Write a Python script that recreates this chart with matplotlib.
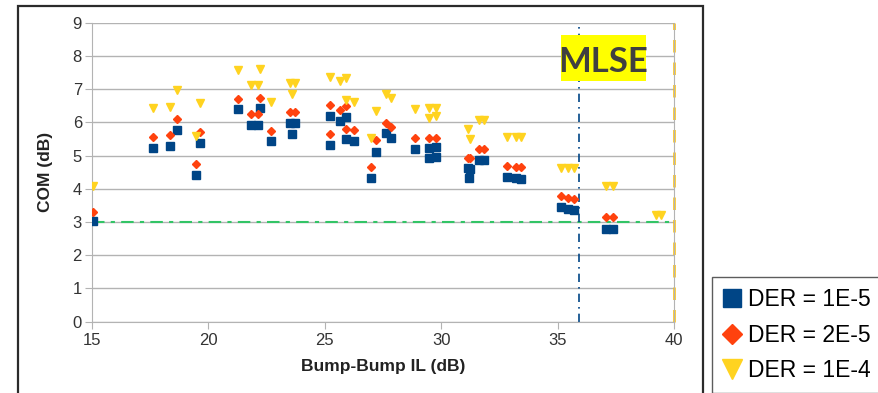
import matplotlib
matplotlib.use("Agg")
import matplotlib.pyplot as plt
from matplotlib.patches import Rectangle
from matplotlib.lines import Line2D

plt.rcParams['font.family'] = ['Liberation Sans', 'DejaVu Sans']

# ---- data ----
x_1e5 = [15.05, 17.65, 18.36, 18.67, 19.46, 19.67, 21.28, 21.86, 22.14, 22.21, 22.69,
         23.50, 23.74, 23.60, 25.24, 25.24, 25.64, 25.93, 25.93, 26.26, 27.00, 27.22,
         27.62, 27.87, 28.86, 29.47, 29.79, 29.47, 29.79, 31.14, 31.26, 31.20, 31.64,
         31.86, 32.81, 33.21, 33.43, 35.14, 35.43, 35.71, 37.07, 37.36]
y_1e5 = [3.02, 5.24, 5.29, 5.77, 4.42, 5.37, 6.40, 5.92, 5.92, 6.43, 5.43,
         5.99, 5.98, 5.65, 6.20, 5.32, 6.05, 6.17, 5.49, 5.45, 4.33, 5.12,
         5.67, 5.53, 5.19, 4.92, 4.97, 5.22, 5.25, 4.62, 4.59, 4.32, 4.87,
         4.87, 4.37, 4.32, 4.30, 3.45, 3.39, 3.37, 2.78, 2.78]

x_2e5 = [15.05, 17.65, 18.36, 18.67, 19.46, 19.67, 21.28, 21.86, 22.14, 22.21, 22.69,
         23.50, 23.74, 25.24, 25.24, 25.64, 25.93, 25.93, 26.26, 27.00, 27.22,
         27.62, 27.87, 28.86, 29.47, 29.79, 31.14, 31.26, 31.64,
         31.86, 32.81, 33.21, 33.43, 35.14, 35.43, 35.71, 37.07, 37.36]
y_2e5 = [3.30, 5.55, 5.61, 6.10, 4.74, 5.71, 6.71, 6.26, 6.24, 6.74, 5.74,
         6.32, 6.30, 6.52, 5.65, 6.38, 6.48, 5.81, 5.77, 4.65, 5.47,
         5.98, 5.86, 5.52, 5.54, 5.52, 4.92, 4.92, 5.20,
         5.20, 4.70, 4.65, 4.67, 3.79, 3.72, 3.70, 3.14, 3.14]

x_1e4 = [15.05, 17.65, 18.36, 18.67, 19.46, 19.67, 21.28, 21.86, 22.14, 22.21, 22.69,
         23.50, 23.74, 23.60, 25.24, 25.64, 25.93, 25.93, 26.26, 27.00, 27.22,
         27.62, 27.87, 28.86, 29.47, 29.79, 29.47, 29.79, 31.14, 31.26, 31.64,
         31.86, 32.81, 33.21, 33.43, 35.14, 35.43, 35.71, 37.07, 37.36, 39.21, 39.43]
y_1e4 = [4.07, 6.42, 6.46, 6.96, 5.59, 6.58, 7.58, 7.12, 7.12, 7.60, 6.62,
         7.20, 7.18, 6.86, 7.38, 7.24, 7.34, 6.68, 6.62, 5.52, 6.33,
         6.85, 6.73, 6.40, 6.42, 6.44, 6.13, 6.18, 5.79, 5.49, 6.07,
         6.07, 5.57, 5.55, 5.57, 4.62, 4.62, 4.62, 4.07, 4.07, 3.21, 3.21]

labels = ['DER = 1E-5', 'DER = 2E-5', 'DER = 1E-4']
colors = ['#004586', '#ff420e', '#ffd320']
x_ticks = [15, 20, 25, 30, 35, 40]
y_ticks = [0, 1, 2, 3, 4, 5, 6, 7, 8, 9]
mlse_x = 35.9
limit_x = 40
com_thr = 3.0

W, H = 879, 393
fig = plt.figure(figsize=(W / 100, H / 100), dpi=100)

# outer frame
fig.patches.append(Rectangle((18 / W, -0.05), 685 / W, 1.05 - 6 / H,
                             transform=fig.transFigure, fill=False,
                             edgecolor='#2b2b2b', lw=1.6))

ax = fig.add_axes([91.7 / W, 1 - 321.7 / H, (674 - 91.7) / W, (321.7 - 22.7) / H])
ax.set_xlim(15, 40)
ax.set_ylim(0, 9)
ax.set_xticks(x_ticks)
ax.set_yticks(y_ticks)
ax.yaxis.grid(True, color='#b3b3b3', lw=1)
ax.set_axisbelow(True)
for s in ['left', 'bottom', 'right']:
    ax.spines[s].set_color('#b3b3b3')
ax.spines['top'].set_visible(False)
ax.tick_params(axis='both', colors='#b3b3b3', labelcolor='#333333', labelsize=12)
ax.tick_params(axis='y', length=5, pad=2)
ax.tick_params(axis='x', length=5, pad=3)

ax.axhline(com_thr, color='#33c466', lw=1.5, ls=(0, (6, 3, 2, 3)), zorder=2)
ax.axvline(mlse_x, color='#004586', lw=1.2, ls=(0, (5, 3, 1, 3)), zorder=2)
ax.axvline(limit_x, color='#ffc000', lw=1.8, ls=(0, (5, 4)), zorder=2, clip_on=False)

ax.plot(x_1e5, y_1e5, 's', color=colors[0], ms=5.5, ls='none', zorder=3)
ax.plot(x_2e5, y_2e5, 'D', color=colors[1], ms=4.5, ls='none', zorder=4)
ax.plot(x_1e4, y_1e4, 'v', color=colors[2], ms=6, ls='none', zorder=5)

ax.set_xlabel('Bump-Bump IL (dB)', fontsize=12.5, fontweight='bold', color='#222222', labelpad=8)
ax.set_ylabel('COM (dB)', fontsize=12.5, fontweight='bold', color='#222222', labelpad=14)

# MLSE label
fig.patches.append(Rectangle((561 / W, 1 - 81 / H), 85 / W, 46 / H,
                             transform=fig.transFigure, facecolor='#ffff00',
                             edgecolor='none', zorder=6))
fig.text(603.5 / W, 1 - 71.7 / H, 'MLSE', ha='center', va='baseline',
         fontsize=25, fontweight='bold', family='Lato', color='#404040', zorder=7)

# legend
handles = [Line2D([], [], marker='s', color=colors[0], ls='none', ms=12.5),
           Line2D([], [], marker='D', color=colors[1], ls='none', ms=10.5),
           Line2D([], [], marker='v', color=colors[2], ls='none', ms=14)]
leg = fig.legend(handles, labels, loc='upper left',
                 bbox_to_anchor=(712 / W, 1 - 277 / H), borderaxespad=0,
                 fontsize=16.5, frameon=True, fancybox=False, edgecolor='#333333',
                 handlelength=0.75, handletextpad=0.3, labelspacing=0.53,
                 borderpad=0.5)
leg.get_frame().set_linewidth(1.0)

fig.savefig('out.png', dpi=100)
